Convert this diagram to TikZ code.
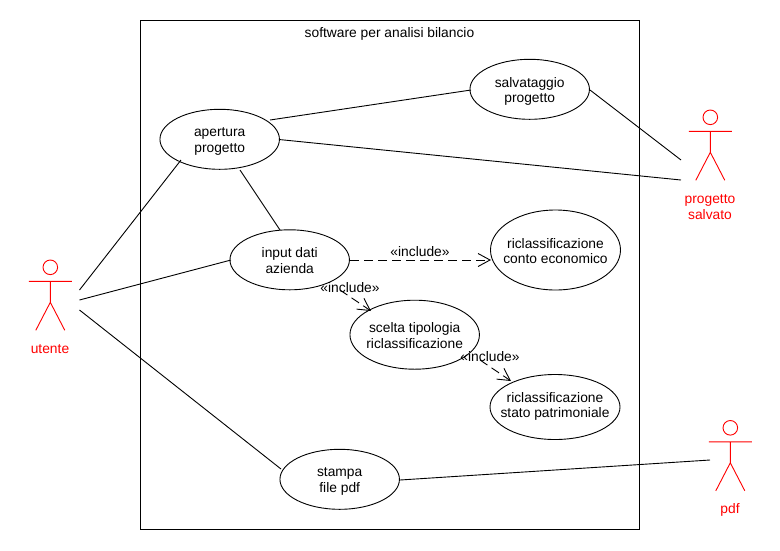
\documentclass[tikz,border=0pt]{standalone}
\usepackage{fontspec}
\setmainfont{Liberation Sans}
\usetikzlibrary{shapes.geometric,arrows.meta}
\definecolor{actred}{RGB}{255,0,0}
\newcommand\twolines[2]{\rule[-3pt]{0pt}{11pt}#1\\\rule[-3pt]{0pt}{11pt}#2}
\tikzset{
  usecase/.style={draw=black,line width=0.9pt,ellipse,inner sep=0pt},
  casetext/.style={inner sep=0pt,outer sep=0pt,align=center,font=\fontsize{13.8}{15.4}\selectfont,yshift=-2.2pt},
  assoc/.style={draw=black,line width=0.9pt},
  incl/.style={draw=black,line width=0.9pt,dash pattern=on 9pt off 5pt,-{Straight Barb[length=12pt,width=13pt,line width=0.9pt]}},
  inclabel/.style={font=\fontsize{13.8}{14}\selectfont,inner sep=0pt,fill=none},
  actlabel/.style={text=actred,align=center,inner sep=0pt,font=\fontsize{13.8}{16}\selectfont},
  actorline/.style={draw=actred,line width=0.9pt},
  actorhead/.style={circle,draw=actred,line width=0.9pt,minimum size=14.6pt,inner sep=0pt},
  pics/actor/.style={code={
    \draw[actorline] (0,14) -- (0,35) (-21.5,14) -- (21.5,14) (-14.5,63) -- (0,35) -- (14.5,63);
  }}
}
\begin{document}
\begin{tikzpicture}[x=1pt,y=-1pt]
\useasboundingbox[fill=white] (0,0) rectangle (780,550);
\node[draw=black,line width=0.9pt,minimum width=499pt,minimum height=509pt,inner sep=0pt] (frame) at (389.5,274.5) {};
\node[inner sep=0pt,font=\fontsize{13.8}{14}\selectfont] (title) at (389.5,34) {software per analisi bilancio};

\node[usecase,minimum width=119.5pt,minimum height=60pt,label={[casetext]center:{\twolines{apertura}{progetto}}}] (apertura) at (219.7,139.3) {};
\node[usecase,minimum width=119.5pt,minimum height=60pt,label={[casetext]center:{\twolines{salvataggio}{progetto}}}] (salva) at (529.7,89.3) {};
\node[usecase,minimum width=119.5pt,minimum height=60pt,label={[casetext]center:{\twolines{input dati}{azienda}}}] (input) at (289.7,259.8) {};
\node[usecase,minimum width=130pt,minimum height=80pt,label={[casetext]center:{\twolines{riclassificazione}{conto economico}}}] (conto) at (555.5,250) {};
\node[usecase,minimum width=129.5pt,minimum height=69pt,label={[casetext]center:{\twolines{scelta tipologia}{riclassificazione}}}] (scelta) at (414.7,334.7) {};
\node[usecase,minimum width=130pt,minimum height=65pt,label={[casetext,yshift=2.5pt]center:{\twolines{riclassificazione}{stato patrimoniale}}}] (stato) at (555,407) {};
\node[usecase,minimum width=119.5pt,minimum height=60pt,label={[casetext]center:{\twolines{stampa}{file pdf}}}] (stampa) at (339.7,479.3) {};

\node[actorhead] (utente) at (50.3,267.3) {};
\pic at (50.3,267.3) {actor};
\node[actlabel] (utentel) at (50,349) {utente};
\node[actorhead] (salvato) at (710.3,117.3) {};
\pic at (710.3,117.3) {actor};
\node[actlabel] (salvatol) at (710,207) {progetto\\salvato};
\node[actorhead] (pdf) at (730.3,427.8) {};
\pic at (730.3,427.8) {actor};
\node[actlabel] (pdfl) at (730,510.3) {pdf};

\coordinate (u1) at (79.5,290);
\coordinate (u2) at (79.5,300);
\coordinate (u3) at (79.5,310);
\coordinate (s1) at (681,160);
\coordinate (s2) at (681,180);
\coordinate (p1) at (710,460);
\coordinate (a1) at (181,160);
\coordinate (a2) at (270,120);
\coordinate (a3) at (279,139.5);
\coordinate (a4) at (240,170);
\coordinate (i1) at (231,260);
\coordinate (i2) at (280,230);
\coordinate (i3) at (350,260);
\coordinate (i4) at (340,290);
\coordinate (sv1) at (471,90);
\coordinate (sv2) at (590,90);
\coordinate (c1) at (491,260);
\coordinate (sc1) at (371,311);
\coordinate (sc2) at (480,360);
\coordinate (st1) at (511,381);
\coordinate (sp1) at (281,469);
\coordinate (sp2) at (400,480);

\draw[assoc] (u1) -- (a1);
\draw[assoc] (u2) -- (i1);
\draw[assoc] (u3) -- (sp1);
\draw[assoc] (a2) -- (sv1);
\draw[assoc] (a3) -- (s2);
\draw[assoc] (a4) -- (i2);
\draw[assoc] (sv2) -- (s1);
\draw[assoc] (sp2) -- (p1);
\draw[incl] (i3) -- (c1);
\draw[incl] (i4) -- (sc1);
\draw[incl] (sc2) -- (st1);

\node[inclabel] (l1) at (420,251.5) {«include»};
\node[inclabel] (l2) at (350,287.5) {«include»};
\node[inclabel] (l3) at (490,357) {«include»};
\end{tikzpicture}
\end{document}
